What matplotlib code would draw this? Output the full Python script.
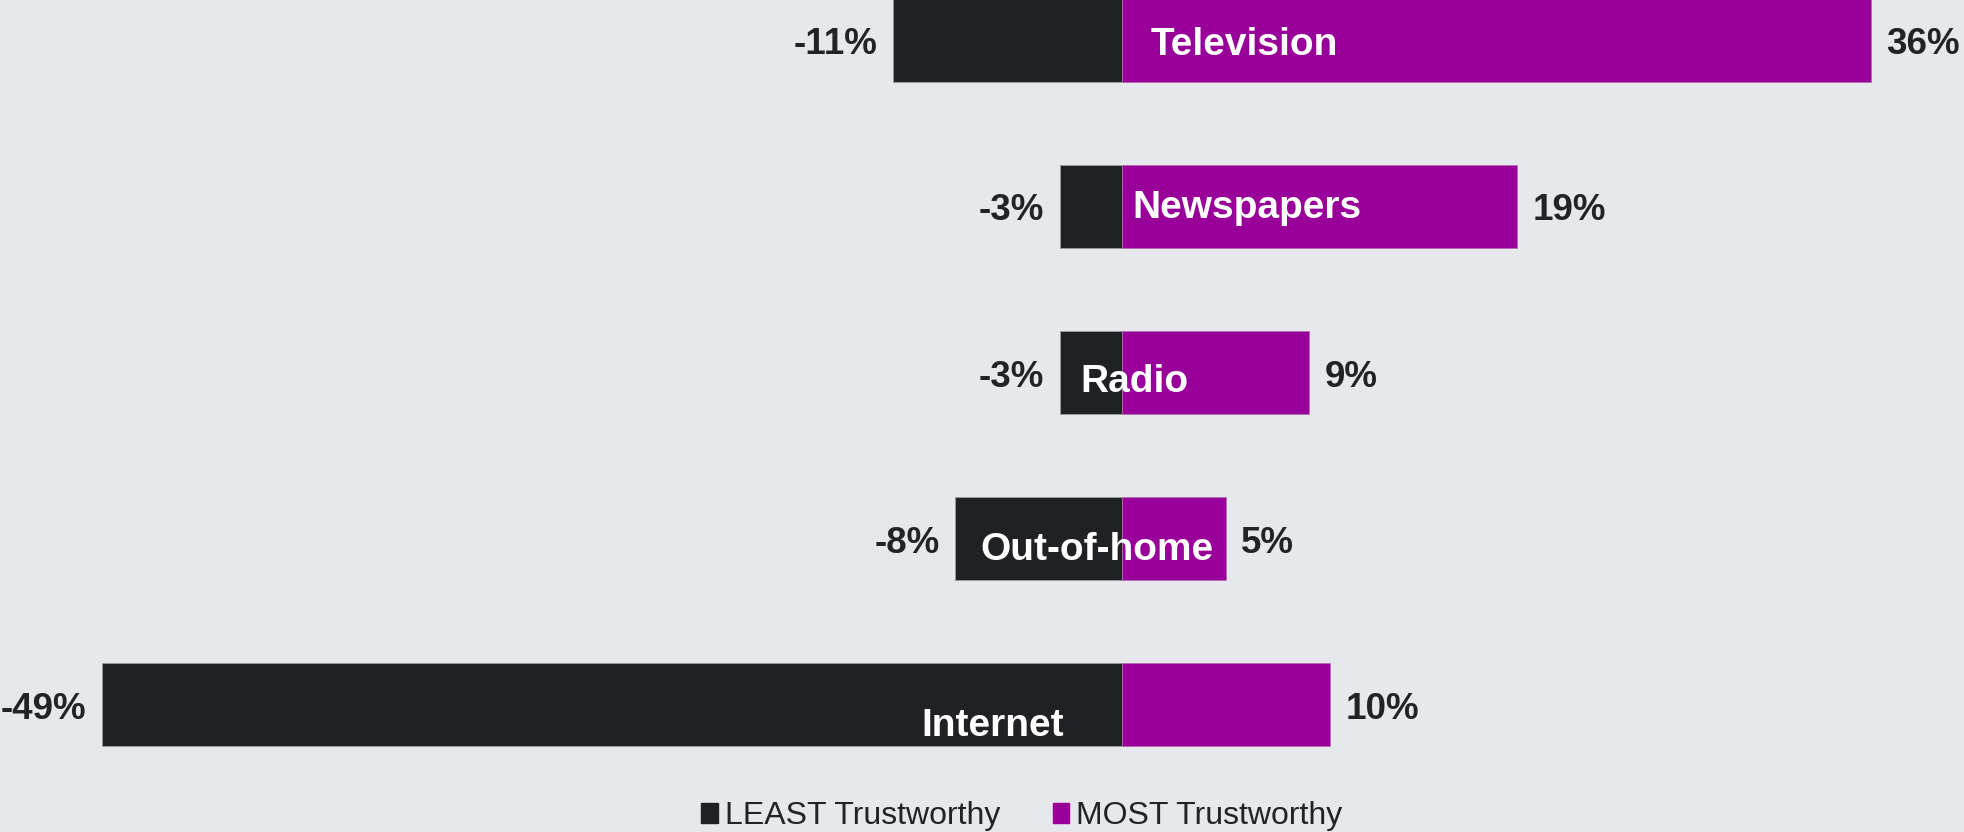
import matplotlib
matplotlib.use("Agg")
import matplotlib.pyplot as plt
from matplotlib.patches import Patch

# media channels, top to bottom
channels = ["Television", "Newspapers", "Radio", "Out-of-home", "Internet"]
least = [-11, -3, -3, -8, -49]
most = [36, 19, 9, 5, 10]

# where each channel name sits (x in %, y shift in bar units)
name_x = [5.9, 6.0, 0.6, -1.2, -6.2]
name_dy = [-0.03, -0.01, -0.06, -0.07, -0.13]

bg = "#E7E8EC"
dark = "#202125"
purple = "#990099"
txt = "#222326"

plt.rcParams["font.family"] = ["Liberation Sans", "DejaVu Sans"]

fig = plt.figure(figsize=(19.65, 8.32), dpi=100, facecolor=bg)
ax = fig.add_axes([0, 0, 1, 1])
ax.set_facecolor(bg)

n = len(channels)
ys = [n - 1 - i for i in range(n)]

ax.barh(ys, least, height=0.5, color=dark, edgecolor="#9a9ba0", linewidth=0.6)
ax.barh(ys, most, height=0.5, color=purple, edgecolor="#b070b0", linewidth=0.6)

for y, lo, hi, nm, nx, dy in zip(ys, least, most, channels, name_x, name_dy):
    ax.annotate(f"{lo}%", (lo, y), xytext=(-11, -3.5), textcoords="offset points",
                ha="right", va="center", fontsize=26.5, fontweight="bold", color=txt)
    ax.annotate(f"{hi}%", (hi, y), xytext=(11, -3.5), textcoords="offset points",
                ha="left", va="center", fontsize=26.5, fontweight="bold", color=txt)
    ax.text(nx, y + dy, nm, ha="center", va="center", fontsize=28,
            fontweight="bold", color="white")

ax.set_xlim(-53.9, 40.5)
ax.set_ylim(-0.768, 4.241)
ax.axis("off")

handles = [Patch(color=dark, label="LEAST Trustworthy"),
           Patch(color=purple, label="MOST Trustworthy")]
ax.legend(handles=handles, loc="center", bbox_to_anchor=(0.52, 0.019), ncol=2,
          frameon=False, fontsize=23, handlelength=0.52, handleheight=0.58,
          handletextpad=0.22, columnspacing=1.65, labelcolor=txt)

fig.savefig("out.png", dpi=100, facecolor=bg)
